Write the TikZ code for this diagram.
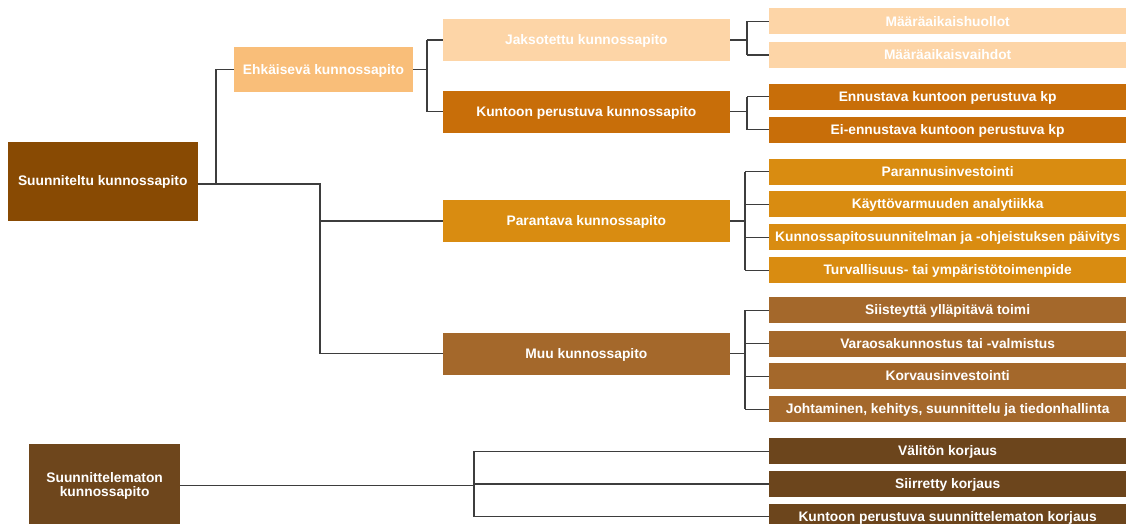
\documentclass[tikz,border=0pt]{standalone}
\usepackage{fontspec}
\setmainfont{Liberation Sans}
\usetikzlibrary{calc}

\definecolor{cRootA}{HTML}{884A03}
\definecolor{cEhk}{HTML}{F9BE79}
\definecolor{cJakso}{HTML}{FDD5A7}
\definecolor{cKunto}{HTML}{C86E09}
\definecolor{cPar}{HTML}{D98C11}
\definecolor{cMuu}{HTML}{A4682B}
\definecolor{cRootB}{HTML}{6E461C}
\definecolor{cKorj}{HTML}{6C451C}
\definecolor{cLine}{HTML}{3D3D3D}

\tikzset{
  box/.style={rectangle, inner sep=0pt, text=white, align=center,
    font=\bfseries\fontsize{13.8}{14}\selectfont},
  oneline/.style={box, text height=11.2pt, text depth=2pt},
  midbox/.style={oneline, minimum width=287.3pt, minimum height=41.5pt},
  leafbox/.style={oneline, minimum width=356.7pt, minimum height=26pt},
  conn/.style={draw=cLine, line width=1.3pt}
}

\begin{document}
\begin{tikzpicture}[x=1pt, y=-1pt]
  \useasboundingbox (0,0) rectangle (1126,524);

  % top-level categories
  \node[oneline, fill=cRootA, minimum width=189.5pt, minimum height=79.3pt]
    (root1) at (102.75,181.35) {Suunniteltu kunnossapito};
  \node[box, fill=cRootB, minimum width=150.7pt, minimum height=82.8pt]
    (root2) at (104.65,485.7) {Suunnittelematon\\kunnossapito};

  % preventive branch
  \node[oneline, fill=cEhk, minimum width=178.4pt, minimum height=45pt]
    (ehk) at (323.5,69.5) {Ehkäisevä kunnossapito};

  % second level
  \node[midbox, fill=cJakso] (jakso) at (586.35,40) {Jaksotettu kunnossapito};
  \node[midbox, fill=cKunto] (kunto) at (586.35,111.85) {Kuntoon perustuva kunnossapito};
  \node[midbox, fill=cPar] (par) at (586.35,221) {Parantava kunnossapito};
  \node[midbox, fill=cMuu] (muu) at (586.35,353.8) {Muu kunnossapito};

  % leaves
  \node[leafbox, fill=cJakso] (m1) at (947.65,21.5) {Määräaikaishuollot};
  \node[leafbox, fill=cJakso] (m2) at (947.65,55) {Määräaikaisvaihdot};
  \node[leafbox, fill=cKunto] (k1) at (947.65,96.65) {Ennustava kuntoon perustuva kp};
  \node[leafbox, fill=cKunto] (k2) at (947.65,129.65) {Ei-ennustava kuntoon perustuva kp};
  \node[leafbox, fill=cPar] (p1) at (947.65,171.65) {Parannusinvestointi};
  \node[leafbox, fill=cPar] (p2) at (947.65,204.35) {Käyttövarmuuden analytiikka};
  \node[leafbox, fill=cPar] (p3) at (947.65,237.15) {Kunnossapitosuunnitelman ja -ohjeistuksen päivitys};
  \node[leafbox, fill=cPar] (p4) at (947.65,270.15) {Turvallisuus- tai ympäristötoimenpide};
  \node[leafbox, fill=cMuu] (u1) at (947.65,310.3) {Siisteyttä ylläpitävä toimi};
  \node[leafbox, fill=cMuu] (u2) at (947.65,343.7) {Varaosakunnostus tai -valmistus};
  \node[leafbox, fill=cMuu] (u3) at (947.65,376.3) {Korvausinvestointi};
  \node[leafbox, fill=cMuu] (u4) at (947.65,409.35) {Johtaminen, kehitys, suunnittelu ja tiedonhallinta};
  \node[leafbox, fill=cKorj] (r1) at (947.65,451.3) {Välitön korjaus};
  \node[leafbox, fill=cKorj] (r2) at (947.65,484) {Siirretty korjaus};
  \node[leafbox, fill=cKorj] (r3) at (947.65,516.7) {Kuntoon perustuva suunnittelematon korjaus};

  % bend columns of the elbow connectors
  \coordinate (b1) at (216,0);
  \coordinate (b2) at (320,0);
  \coordinate (b3) at (427,0);
  \coordinate (b4) at (747,0);
  \coordinate (b5) at (745,0);
  \coordinate (b6) at (474,0);
  \coordinate (r1out) at ([yshift=-2.6pt]root1.east);

  % planned maintenance
  \draw[conn] (r1out) -| (b1 |- ehk.west) -- (ehk.west);
  \draw[conn] (r1out) -| (b2 |- par.west) -- (par.west);
  \draw[conn] (b2 |- par.west) |- (muu.west);

  % preventive maintenance
  \draw[conn] (ehk.east) -- (ehk.east -| b3);
  \draw[conn] (b3 |- jakso.west) -- (b3 |- kunto.west);
  \draw[conn] (b3 |- jakso.west) -- (jakso.west);
  \draw[conn] (b3 |- kunto.west) -- (kunto.west);

  % groups of leaves
  \foreach \p/\a/\b/\bx in {jakso/m1/m2/b4, kunto/k1/k2/b4, par/p1/p4/b5, muu/u1/u4/b5, root2/r1/r3/b6}{
    \draw[conn] (\p.east) -- (\p.east -| \bx);
    \draw[conn] (\bx |- \a.west) -- (\bx |- \b.west);
  }
  \foreach \n/\bx in {m1/b4, m2/b4, k1/b4, k2/b4, p1/b5, p2/b5, p3/b5, p4/b5,
                     u1/b5, u2/b5, u3/b5, u4/b5, r1/b6, r2/b6, r3/b6}{
    \draw[conn] (\bx |- \n.west) -- (\n.west);
  }
\end{tikzpicture}
\end{document}
